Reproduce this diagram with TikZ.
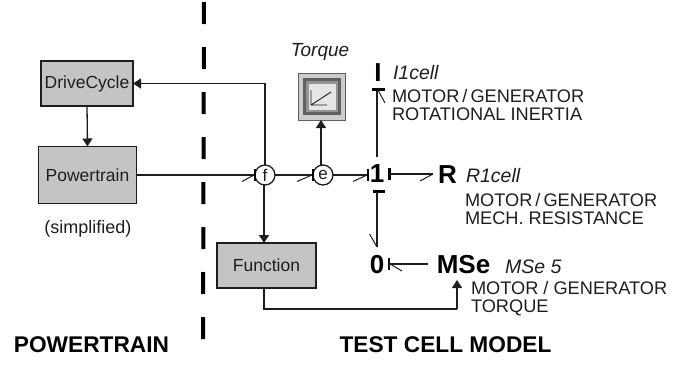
\documentclass[tikz,border=0pt]{standalone}
\usepackage{fontspec}
\setmainfont{Liberation Sans}
\usetikzlibrary{arrows.meta}
\definecolor{boxfill}{RGB}{196,196,196}
\definecolor{ink}{RGB}{30,30,30}
\newcommand{\fsz}[1]{\fontsize{#1}{#1}\selectfont}
\newcommand{\low}[1]{\raisebox{-1.5pt}{#1}}
\begin{document}
\begin{tikzpicture}[x=1pt,y=-1pt,
  every node/.style={inner sep=0pt,outer sep=0pt,text=ink},
  block/.style={draw=ink,line width=1.4pt,fill=boxfill,font=\fsz{17.5}},
  junction/.style={circle,draw=ink,line width=1.3pt,minimum size=20pt,fill=white,font=\fsz{17}},
  sym/.style={font=\fsz{26}\bfseries,text=black},
  conn/.style={draw=ink,line width=1.3pt},
  solidarrow/.style={conn,-{Triangle[length=8pt,width=10pt]}},
  bar/.style={draw=black,line width=2.2pt},
  barb/.style={draw=ink,line width=1pt},
  txtlabel/.style={font=\fsz{18.2},anchor=west,align=left},
  elname/.style={font=\fsz{19.5}\itshape,anchor=west},
  head/.style={font=\fsz{22.7}\bfseries,text=black}]
\useasboundingbox (0,0) rectangle (690,364);
\fill[white] (0,0) rectangle (690,364);
% divider
\coordinate (divtop) at (204,0);
\coordinate (divbot) at (203,339);
\draw[black,line width=4pt,dash pattern=on 22pt off 23pt] (divbot) -- (divtop);
% blocks
\node[block,minimum width=92pt,minimum height=45pt] (dc) at (87,83.5) {\low{DriveCycle}};
\node[block,minimum width=98pt,minimum height=57pt] (pt) at (87.5,175) {\low{Powertrain}};
\node[block,minimum width=99pt,minimum height=45pt] (fn) at (266.5,265.5) {\low{Function}};
\node[font=\fsz{18}] (simp) at (88,229) {(simplified)};
% junctions
\node[junction] (f) at (265,175) {f};
\node[junction] (e) at (323,175) {e};
\node[sym] (one) at (377,174) {1};
\node[sym] (R) at (447.5,175) {R};
\node[sym] (I) at (378,72.5) {I};
\node[sym] (zero) at (377,265) {0};
\node[sym] (mse) at (463.5,265) {MSe};
% torque display
\node[draw=ink!70,line width=1pt,fill=black!20,minimum size=47pt] (tq) at (322,96.5) {};
\fill[black!62] (303,78) rectangle (341,115);
\fill[black!42] (306,81) rectangle (338,112);
\fill[black!10] (308.5,83.5) rectangle (335.5,110);
\draw[ink,line width=.9pt] (311,90) -- (311,105) -- (327,105) (311,105) -- (331,92);
\node[font=\fsz{19}\itshape] (tqname) at (320,52) {Torque};
% signal connectors
\coordinate (fx) at (264,0);
\coordinate (ex) at (321,0);
\coordinate (fcorner) at (264,309);
\coordinate (mcorner) at (457,309);
\coordinate (msein) at (457,280);
\draw[solidarrow] (dc.south) -- (pt.north);
\draw[solidarrow] (f.north) -- (f.north |- dc.east) -- (dc.east);
\draw[solidarrow] (f.south -| fx) -- (fn.north -| fx);
\draw[solidarrow] (e.north -| ex) -- (tq.south -| ex);
\draw[conn] (fn.south -| fx) -- (fcorner) -- (mcorner);
\draw[solidarrow] (mcorner) -- (msein);
% bond end points
\coordinate (oneW) at (368,175);
\coordinate (oneE) at (389.5,174);
\coordinate (oneN) at (377,157);
\coordinate (oneS) at (377,191.5);
\coordinate (rW) at (433,174);
\coordinate (iS) at (377,89.5);
\coordinate (zeroN) at (377,247);
\coordinate (zeroE) at (389,264);
\coordinate (mseW) at (428,264);
% bonds
\draw[conn] (pt.east) -- (f.west);
\draw[bar] (255,169) -- (255,181);
\draw[barb] (242,181.5) -- (254,175);
\draw[conn] (f.east) -- (e.west);
\draw[bar] (313,169) -- (313,181);
\draw[barb] (297,181.5) -- (312,175);
\draw[conn] (e.east) -- (oneW);
\draw[bar] (368,169) -- (368,181);
\draw[barb] (353,181.5) -- (367,175);
\draw[bar] (389.5,168) -- (389.5,180);
\draw[conn] (oneE) -- (rW);
\draw[barb] (420,181) -- (433,174);
\draw[conn] (oneN) -- (iS);
\draw[bar] (372,89.5) -- (385,89.5);
\draw[barb] (385,103) -- (378,90);
\draw[bar] (373,191.5) -- (385,191.5);
\draw[conn] (oneS) -- (zeroN);
\draw[barb] (369.5,234) -- (377,247);
\draw[bar] (389,258) -- (389,270);
\draw[conn] (mseW) -- (zeroE);
\draw[barb] (390,264) -- (402,271);
% labels
\node[elname] (iname) at (393,73) {I1cell};
\node[txtlabel] (itext) at (392,105) {MOTOR\,/\,GENERATOR\\ROTATIONAL INERTIA};
\node[elname] (rname) at (466,176) {R1cell};
\node[txtlabel] (rtext) at (465,209) {MOTOR\,/\,GENERATOR\\MECH. RESISTANCE};
\node[elname] (mname) at (505,267) {MSe 5};
\node[txtlabel] (mtext) at (471,299) {MOTOR / GENERATOR\\TORQUE};
\node[head] (lhead) at (91.5,345) {POWERTRAIN};
\node[head] (rhead) at (445.5,345) {TEST CELL MODEL};
\end{tikzpicture}
\end{document}
